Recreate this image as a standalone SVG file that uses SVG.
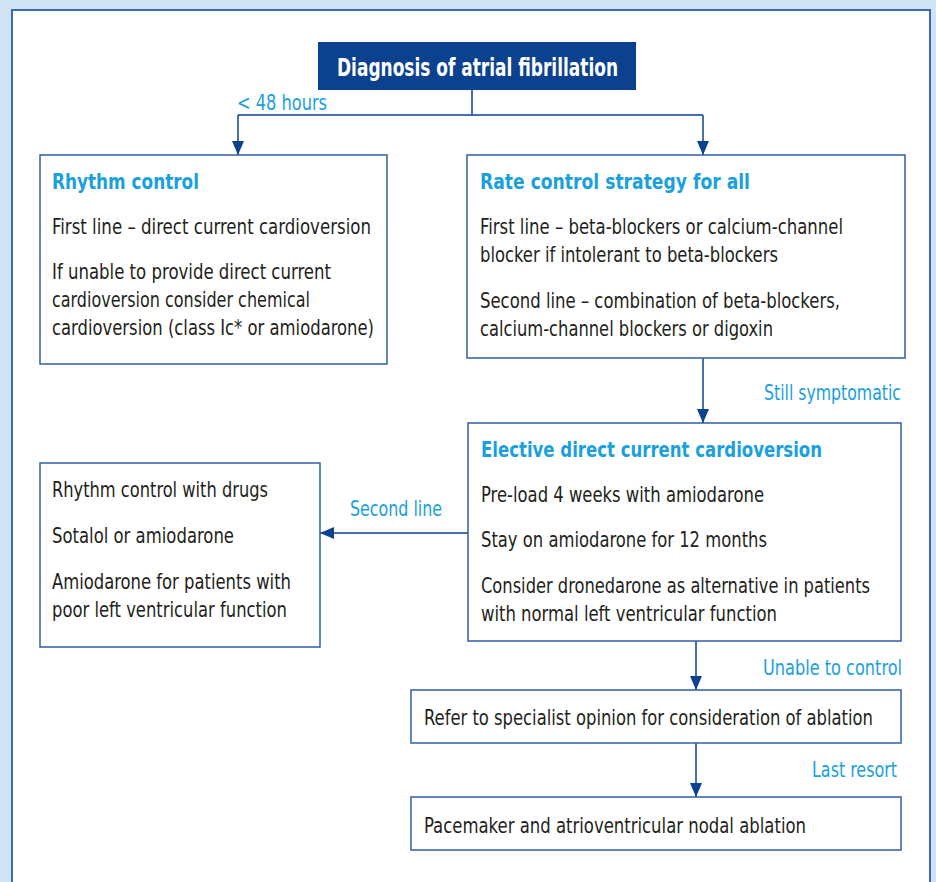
<svg xmlns="http://www.w3.org/2000/svg" width="936" height="882" viewBox="0 0 936 882">
<defs>
<marker id="ah" viewBox="0 0 14 12" refX="14" refY="6" markerWidth="14" markerHeight="12" markerUnits="userSpaceOnUse" orient="auto">
<path d="M0,0 L14,6 L0,12 z" fill="#0b418f"/>
</marker>
<style>
.box{fill:#fff;stroke:#2f5ea6;stroke-width:1.5}
.t{font-family:"Liberation Sans Narrow","DejaVu Sans Condensed","Liberation Sans",sans-serif;font-size:22px;fill:#231f20}
.h{font-family:"Liberation Sans Narrow","DejaVu Sans Condensed","Liberation Sans",sans-serif;font-size:22px;font-weight:bold;fill:#1aa0dc}
.l{font-family:"Liberation Sans Narrow","DejaVu Sans Condensed","Liberation Sans",sans-serif;font-size:22px;fill:#1aa0dc}
.c{fill:none;stroke:#0b418f;stroke-width:1.5}
</style>
</defs>
<rect x="0" y="0" width="936" height="882" fill="#cfe3f4"/>
<rect x="12" y="10" width="918" height="880" fill="#fff" stroke="#3a6ab0" stroke-width="2"/>

<g id="connectors">
<path class="c" d="M472,90 V115 M238,115 H703"/>
<path class="c" d="M238,115 V155" marker-end="url(#ah)"/>
<path class="c" d="M703,115 V155" marker-end="url(#ah)"/>
<path class="c" d="M703,358 V423" marker-end="url(#ah)"/>
<path class="c" d="M470,533 H320" marker-end="url(#ah)"/>
<path class="c" d="M696,641 V690" marker-end="url(#ah)"/>
<path class="c" d="M696,743 V797" marker-end="url(#ah)"/>
<text class="l" x="237" y="110" textLength="90" lengthAdjust="spacingAndGlyphs">&lt; 48 hours</text>
<text class="l" x="764" y="400" textLength="137" lengthAdjust="spacingAndGlyphs">Still symptomatic</text>
<text class="l" x="350" y="516" textLength="92" lengthAdjust="spacingAndGlyphs">Second line</text>
<text class="l" x="763" y="675" textLength="139" lengthAdjust="spacingAndGlyphs">Unable to control</text>
<text class="l" x="812" y="777" textLength="85" lengthAdjust="spacingAndGlyphs">Last resort</text>
</g>

<g id="diagnosis">
<rect x="318" y="42" width="318" height="48" fill="#0b418f"/>
<text x="337" y="76" font-family="'Liberation Sans Narrow','DejaVu Sans Condensed','Liberation Sans',sans-serif" font-size="24" font-weight="bold" fill="#fff" textLength="281" lengthAdjust="spacingAndGlyphs">Diagnosis of atrial fibrillation</text>
</g>

<g id="rhythm">
<rect class="box" x="40" y="155" width="347" height="209"/>
<text class="h" x="52" y="189" textLength="147" lengthAdjust="spacingAndGlyphs">Rhythm control</text>
<text class="t" x="52" y="234" textLength="319" lengthAdjust="spacingAndGlyphs">First line – direct current cardioversion</text>
<text class="t" x="52" y="279" textLength="279" lengthAdjust="spacingAndGlyphs">If unable to provide direct current</text>
<text class="t" x="52" y="307" textLength="258" lengthAdjust="spacingAndGlyphs">cardioversion consider chemical</text>
<text class="t" x="52" y="335" textLength="322" lengthAdjust="spacingAndGlyphs">cardioversion (class Ic* or amiodarone)</text>
</g>

<g id="rate">
<rect class="box" x="467" y="155" width="438" height="203"/>
<text class="h" x="480" y="189" textLength="270" lengthAdjust="spacingAndGlyphs">Rate control strategy for all</text>
<text class="t" x="480" y="234" textLength="363" lengthAdjust="spacingAndGlyphs">First line – beta-blockers or calcium-channel</text>
<text class="t" x="480" y="262" textLength="298" lengthAdjust="spacingAndGlyphs">blocker if intolerant to beta-blockers</text>
<text class="t" x="480" y="308" textLength="360" lengthAdjust="spacingAndGlyphs">Second line – combination of beta-blockers,</text>
<text class="t" x="480" y="336" textLength="293" lengthAdjust="spacingAndGlyphs">calcium-channel blockers or digoxin</text>
</g>

<g id="elective">
<rect class="box" x="468" y="423" width="433" height="218"/>
<text class="h" x="481" y="457" textLength="341" lengthAdjust="spacingAndGlyphs">Elective direct current cardioversion</text>
<text class="t" x="481" y="502" textLength="283" lengthAdjust="spacingAndGlyphs">Pre-load 4 weeks with amiodarone</text>
<text class="t" x="481" y="547" textLength="286" lengthAdjust="spacingAndGlyphs">Stay on amiodarone for 12 months</text>
<text class="t" x="481" y="593" textLength="389" lengthAdjust="spacingAndGlyphs">Consider dronedarone as alternative in patients</text>
<text class="t" x="481" y="621" textLength="296" lengthAdjust="spacingAndGlyphs">with normal left ventricular function</text>
</g>

<g id="drugs">
<rect class="box" x="40" y="463" width="280" height="184"/>
<text class="t" x="52" y="497" textLength="216" lengthAdjust="spacingAndGlyphs">Rhythm control with drugs</text>
<text class="t" x="52" y="543" textLength="182" lengthAdjust="spacingAndGlyphs">Sotalol or amiodarone</text>
<text class="t" x="52" y="589" textLength="239" lengthAdjust="spacingAndGlyphs">Amiodarone for patients with</text>
<text class="t" x="52" y="617" textLength="235" lengthAdjust="spacingAndGlyphs">poor left ventricular function</text>
</g>

<g id="refer">
<rect class="box" x="411" y="690" width="490" height="53"/>
<text class="t" x="424" y="725" textLength="449" lengthAdjust="spacingAndGlyphs">Refer to specialist opinion for consideration of ablation</text>
</g>

<g id="pacemaker">
<rect class="box" x="411" y="797" width="490" height="53"/>
<text class="t" x="424" y="833" textLength="382" lengthAdjust="spacingAndGlyphs">Pacemaker and atrioventricular nodal ablation</text>
</g>
</svg>
